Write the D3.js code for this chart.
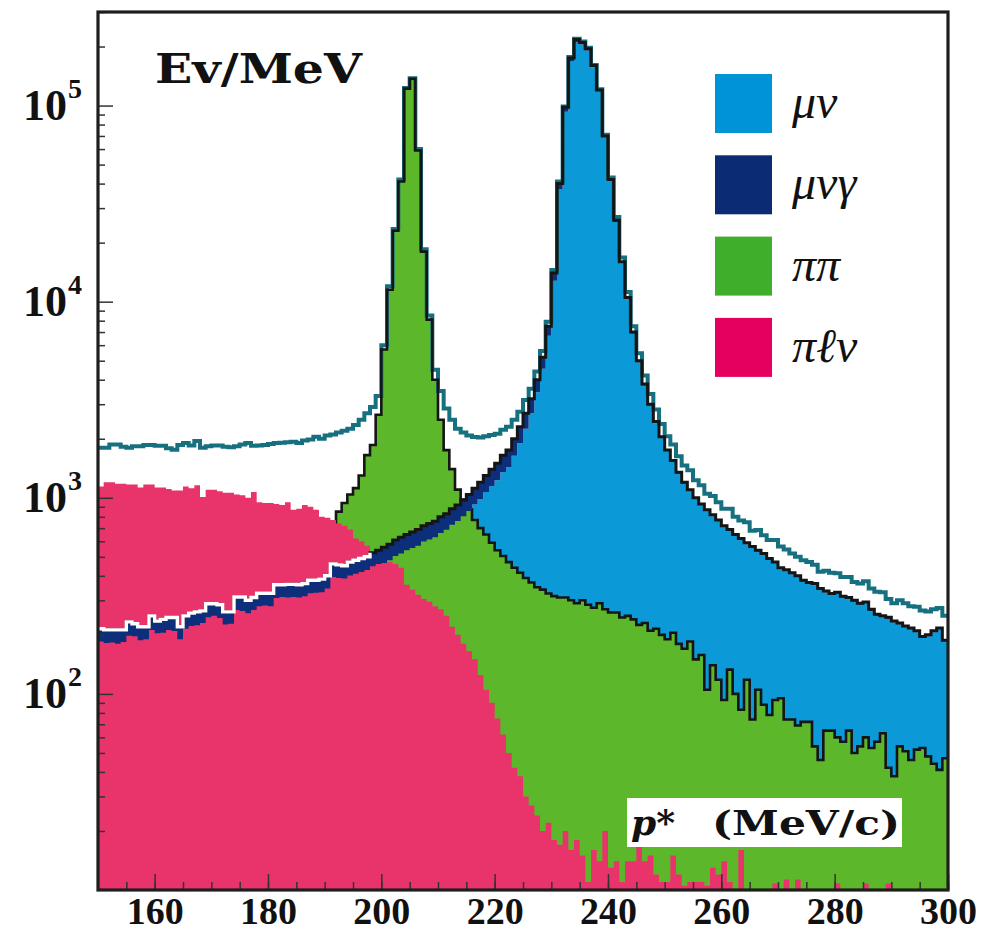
<!DOCTYPE html>
<html>
<head>
<meta charset="utf-8">
<script src="https://cdn.jsdelivr.net/npm/d3@7"></script>
<style>
  body { margin: 0; background: #fff; }
  svg { display: block; }
  .tick line { stroke: #333; stroke-width: 1.5; }
  .xlab { font-family: 'Liberation Serif', serif; font-weight: bold; font-size: 38px; fill: #111; }
  .ylab { font-family: 'Liberation Serif', serif; font-weight: bold; fill: #111; }
  .leg { font-family: 'Liberation Serif', serif; font-style: italic; font-size: 48px; fill: #111; }
</style>
</head>
<body>
<div id="chart"></div>
<script>
'use strict';

// 1 MeV bins, lower edges 150 ... 299
const bins = d3.range(150, 300);

// mu nu alone (light blue)
const muNu = [
  185, 182, 183, 180, 184, 198, 197, 188, 190, 212, 204, 205, 212, 209, 190, 215, 222, 224, 230, 246,
  250, 244, 226, 228, 268, 265, 258, 268, 280, 282, 280, 308, 312, 310, 312, 310, 315, 326, 328, 330,
  345, 395, 390, 388, 402, 410, 418, 428, 448, 460,
  465, 480, 505, 520, 540, 555, 570, 598, 612, 630, 662, 688, 728, 762, 805, 860, 925, 985, 1070, 1150,
  1230, 1350, 1430, 1640, 1900, 2250, 2700, 3450, 4550, 6700, 12800, 37500, 93000, 168000, 210000, 205000, 191000, 157000, 118000, 69000,
  41200, 25500, 15700, 10300, 6870, 4900, 3730, 2950, 2400, 2010, 1720, 1520, 1325, 1180, 1080, 982, 913, 855, 805, 756,
  707, 678, 638, 609, 580, 555, 530, 511, 481, 462, 432, 422, 408, 393, 373, 363, 358, 339, 329, 319,
  324, 309, 304, 295, 285, 289, 265, 250, 245, 241, 231, 226, 218, 213, 206, 193, 196, 206, 213, 185
];

// mu nu + mu nu gamma (top of the navy band, black / white outline)
const muNuPlusGamma = [
  215, 212, 212, 212, 212, 233, 228, 220, 220, 250, 235, 240, 245, 245, 220, 250, 258, 262, 265, 288,
  288, 285, 262, 262, 312, 312, 300, 310, 326, 326, 326, 360, 360, 362, 362, 360, 365, 380, 380, 385,
  400, 460, 455, 450, 470, 480, 490, 500, 525, 540,
  560, 580, 610, 630, 650, 670, 690, 720, 740, 760, 800, 830, 880, 920, 975, 1040, 1120, 1200, 1300, 1400,
  1500, 1650, 1750, 2000, 2300, 2700, 3200, 4000, 5200, 7500, 14000, 40000, 98000, 175000, 217000, 210000, 195000, 160000, 120000, 70000,
  42000, 26000, 16000, 10500, 7000, 5000, 3800, 3000, 2450, 2050, 1750, 1550, 1350, 1200, 1100, 1000, 930, 870, 820, 770,
  720, 690, 650, 620, 590, 565, 540, 520, 490, 470, 440, 430, 415, 400, 380, 370, 365, 345, 335, 325,
  330, 315, 310, 300, 290, 294, 270, 255, 250, 246, 235, 230, 222, 217, 210, 196, 200, 210, 217, 188
];

// pi pi (green)
const piPi = [
  440, 430, 450, 460, 430, 410, 420, 450, 470, 460, 470, 480, 470, 460, 480, 500, 490, 510, 480, 470,
  470, 480, 490, 500, 510, 520, 540, 530, 560, 580, 590, 600, 610, 620, 630, 640, 650, 660, 680, 700,
  720, 730, 850, 940, 1040, 1120, 1300, 1650, 1860, 2650,
  5700, 11500, 23000, 41000, 122000, 137000, 59000, 18000, 8100, 4000, 2500, 1750, 1400, 1100, 980, 870, 770, 700, 650, 590,
  540, 505, 470, 440, 415, 390, 370, 350, 340, 325, 315, 310, 310, 300, 290, 300, 285, 275, 290, 270,
  260, 260, 245, 250, 240, 225, 230, 210, 215, 200, 190, 205, 180, 170, 185, 150, 158, 105, 140, 118,
  93, 133, 100, 83, 118, 74, 105, 88, 78, 93, 95, 74, 74, 69, 72, 72, 54, 46, 65, 65,
  60, 57, 65, 50, 54, 60, 53, 57, 63, 42, 38, 54, 51, 46, 52, 53, 48, 44, 41, 47
];

// pi l nu (pink)
const piLNu = [
  1140, 1200, 1200, 1180, 1180, 1170, 1170, 1130, 1170, 1170, 1130, 1130, 1110, 1090, 1090, 1140, 1120, 1160, 1010, 1100,
  1100, 1080, 1060, 1060, 1040, 1030, 1000, 1070, 950, 940, 940, 930, 920, 950, 870, 880, 920, 900, 870, 800,
  790, 770, 740, 720, 690, 620, 600, 570, 500, 490,
  480, 470, 460, 440, 360, 340, 320, 305, 295, 280, 270, 250, 220, 200, 180, 165, 150, 125, 105, 90,
  75, 62, 50, 42, 38, 30, 27, 24, 20, 22, 18, 17, 20, 16, 18, 15, 11, 16, 14, 20,
  13, 14, 11, 14, 14, 17, 14, 15, 12, 11, 11, 15, 12, 10.5, 11, 11, 11, 10.5, 13, 12,
  14, 11, 0, 16, 0, 0, 0, 0, 0, 10.8, 0, 11.3, 0, 11.3, 0, 0, 0, 0, 0, 0,
  10.8, 0, 0, 0, 0, 10.8, 0, 0, 0, 10.8, 0, 0, 0, 0, 0, 0, 0, 0, 0, 0
];

// total (teal line)
const total = [
  1800, 1800, 1870, 1870, 1820, 1800, 1830, 1830, 1860, 1860, 1840, 1840, 1790, 1760, 1860, 1900, 1850, 1950, 1800, 1830,
  1850, 1850, 1820, 1810, 1830, 1870, 1900, 1840, 1850, 1860, 1880, 1900, 1910, 1920, 1930, 1900, 1960, 1980, 2050, 2000,
  2080, 2100, 2150, 2200, 2250, 2350, 2500, 2700, 2900, 3300,
  6000, 12000, 23500, 42000, 123000, 138000, 60000, 18500, 8500, 4500, 3500, 2850, 2500, 2250, 2150, 2080, 2040, 2030, 2060, 2090,
  2120, 2220, 2300, 2500, 2750, 3150, 3600, 4400, 5600, 7900, 14500, 41000, 99000, 177000, 219000, 212000, 197000, 161000, 121000, 71000,
  43000, 27000, 16800, 11200, 7500, 5450, 4200, 3380, 2820, 2380, 2060, 1870, 1630, 1460, 1380, 1230, 1160, 1050, 1020, 950,
  880, 880, 800, 765, 750, 680, 685, 645, 610, 610, 565, 545, 520, 500, 480, 470, 455, 420, 425, 415,
  412, 395, 395, 372, 365, 375, 345, 332, 330, 305, 290, 300, 290, 280, 278, 266, 263, 270, 274, 250
];

const xMajor = [160, 180, 200, 220, 240, 260, 280, 300];
const xMinor = d3.range(150, 301, 5);
const yDecades = [100, 1000, 10000, 100000];
const yExp = ['2', '3', '4', '5'];

const legendNames = ['\u03bc\u03bd', '\u03bc\u03bd\u03b3', '\u03c0\u03c0', '\u03c0\u2113\u03bd'];
const legendColors = ['#0093d6', '#0b2c74', '#3fae2a', '#e5005f'];

const W = 984, H = 934;
const pL = 98, pR = 948, pT = 12, pB = 890;

window.onload = function () {
  const svg = d3.select('#chart').append('svg')
    .attr('width', W)
    .attr('height', H);

  const x = d3.scaleLinear().domain([150, 300]).range([pL, pR]);
  const y = d3.scaleLog().domain([10, 3e5]).range([pB, pT]).clamp(true);
  const yv = v => y(Math.max(v, 10));

  svg.append('clipPath').attr('id', 'plotClip')
    .append('rect')
    .attr('x', pL).attr('y', pT)
    .attr('width', pR - pL).attr('height', pB - pT);

  const plot = svg.append('g').attr('clip-path', 'url(#plotClip)');

  // points at bin edges, last bin closed at 300
  function steps(vals) {
    const pts = vals.map((v, i) => [bins[i], v, i]);
    pts.push([300, vals[vals.length - 1], vals.length]);
    return pts;
  }

  const fill = d3.area()
    .curve(d3.curveStepAfter)
    .x(d => x(d[0]))
    .y0(pB)
    .y1(d => yv(d[1]));

  const outline = d3.line()
    .curve(d3.curveStepAfter)
    .x(d => x(d[0]))
    .y(d => yv(d[1]));

  plot.append('path')
    .datum(steps(muNu))
    .attr('fill', '#0b99d7')
    .attr('d', fill);

  plot.append('path')
    .datum(steps(piPi))
    .attr('fill', '#5cb82a')
    .attr('d', fill);

  plot.append('path')
    .datum(steps(total))
    .attr('fill', 'none')
    .attr('stroke', '#16707f')
    .attr('stroke-width', 4)
    .attr('d', outline);

  plot.append('path')
    .datum(steps(piPi))
    .attr('fill', 'none')
    .attr('stroke', '#151515')
    .attr('stroke-width', 2.6)
    .attr('d', outline);

  plot.append('path')
    .datum(steps(piLNu))
    .attr('fill', '#e8346a')
    .attr('d', fill);

  // mu nu gamma band stacked on mu nu
  const band = muNu.map((v, i) => [bins[i], v, muNuPlusGamma[i]]);
  band.push([300, muNu[muNu.length - 1], muNuPlusGamma[muNuPlusGamma.length - 1]]);
  plot.append('path')
    .datum(band)
    .attr('fill', '#0c2e7b')
    .attr('d', d3.area()
      .curve(d3.curveStepAfter)
      .x(d => x(d[0]))
      .y0(d => yv(d[1]))
      .y1(d => yv(d[2])));

  plot.append('path')
    .datum(steps(muNuPlusGamma))
    .attr('fill', 'none')
    .attr('stroke', '#151515')
    .attr('stroke-width', 3)
    .attr('d', outline);

  // where the pink lies above the band the outline is white
  const isWhite = i => i < piLNu.length && piLNu[i] > muNuPlusGamma[i];
  plot.append('path')
    .datum(steps(muNuPlusGamma))
    .attr('fill', 'none')
    .attr('stroke', '#fff')
    .attr('stroke-width', 3.4)
    .attr('d', outline.defined(d => isWhite(d[2]) || (d[2] > 0 && isWhite(d[2] - 1))));

  // axes, ticks inside
  const xAxis = svg.append('g').attr('transform', 'translate(0,' + pB + ')');
  xAxis.append('g')
    .call(d3.axisBottom(x).tickValues(xMinor).tickSize(-8).tickFormat(''));
  xAxis.append('g')
    .call(d3.axisBottom(x).tickValues(xMajor).tickSize(-16).tickPadding(7).tickFormat(d3.format('d')))
    .selectAll('text')
    .attr('class', 'xlab');
  xAxis.selectAll('g').attr('font-size', null).attr('font-family', null);
  xAxis.selectAll('.domain').remove();

  const yMinor = [];
  [10, 100, 1000, 10000, 100000].forEach(function (dec) {
    for (let k = 2; k < 10; k++) {
      const v = dec * k;
      if (v <= 3e5) yMinor.push(v);
    }
  });
  const yAxis = svg.append('g').attr('transform', 'translate(' + pL + ',0)');
  yAxis.append('g')
    .call(d3.axisLeft(y).tickValues(yMinor).tickSize(-7).tickFormat(''));
  yAxis.append('g')
    .call(d3.axisLeft(y).tickValues(yDecades).tickSize(-15).tickFormat(''));
  yAxis.selectAll('.domain').remove();

  const ylab = svg.append('g');
  yDecades.forEach(function (v, i) {
    ylab.append('text')
      .attr('class', 'ylab')
      .attr('x', 67)
      .attr('y', y(v) + 14)
      .attr('text-anchor', 'end')
      .attr('font-size', 44)
      .text('10');
    ylab.append('text')
      .attr('class', 'ylab')
      .attr('x', 68)
      .attr('y', y(v) - 8)
      .attr('font-size', 28)
      .text(yExp[i]);
  });

  // frame
  svg.append('rect')
    .attr('x', pL).attr('y', pT)
    .attr('width', pR - pL).attr('height', pB - pT)
    .attr('fill', 'none')
    .attr('stroke', '#1e1e1e')
    .attr('stroke-width', 3.2);

  svg.append('text')
    .attr('x', 155)
    .attr('y', 83)
    .attr('font-family', 'DejaVu Serif, serif')
    .attr('font-weight', 'bold')
    .attr('font-size', 41)
    .attr('textLength', 207)
    .attr('lengthAdjust', 'spacingAndGlyphs')
    .attr('fill', '#111')
    .text('Ev/MeV');

  // legend
  const leg = svg.append('g');
  legendNames.forEach(function (name, i) {
    const y0 = 74 + i * 81.3;
    leg.append('rect')
      .attr('x', 715).attr('y', y0)
      .attr('width', 57).attr('height', 59)
      .attr('fill', legendColors[i]);
    leg.append('text')
      .attr('class', 'leg')
      .attr('x', 792)
      .attr('y', y0 + 44)
      .text(name);
  });

  // x title in a white box
  svg.append('rect')
    .attr('x', 627).attr('y', 798)
    .attr('width', 275).attr('height', 49)
    .attr('fill', '#fff');
  svg.append('text')
    .attr('x', 631)
    .attr('y', 835)
    .attr('font-family', 'DejaVu Serif, serif')
    .attr('font-weight', 'bold')
    .attr('font-style', 'italic')
    .attr('font-size', 36)
    .attr('fill', '#111')
    .text('p*');
  svg.append('text')
    .attr('x', 712)
    .attr('y', 835)
    .attr('font-family', 'DejaVu Serif, serif')
    .attr('font-weight', 'bold')
    .attr('font-size', 34)
    .attr('textLength', 188)
    .attr('lengthAdjust', 'spacingAndGlyphs')
    .attr('fill', '#111')
    .text('(MeV/c)');
};
</script>
</body>
</html>
